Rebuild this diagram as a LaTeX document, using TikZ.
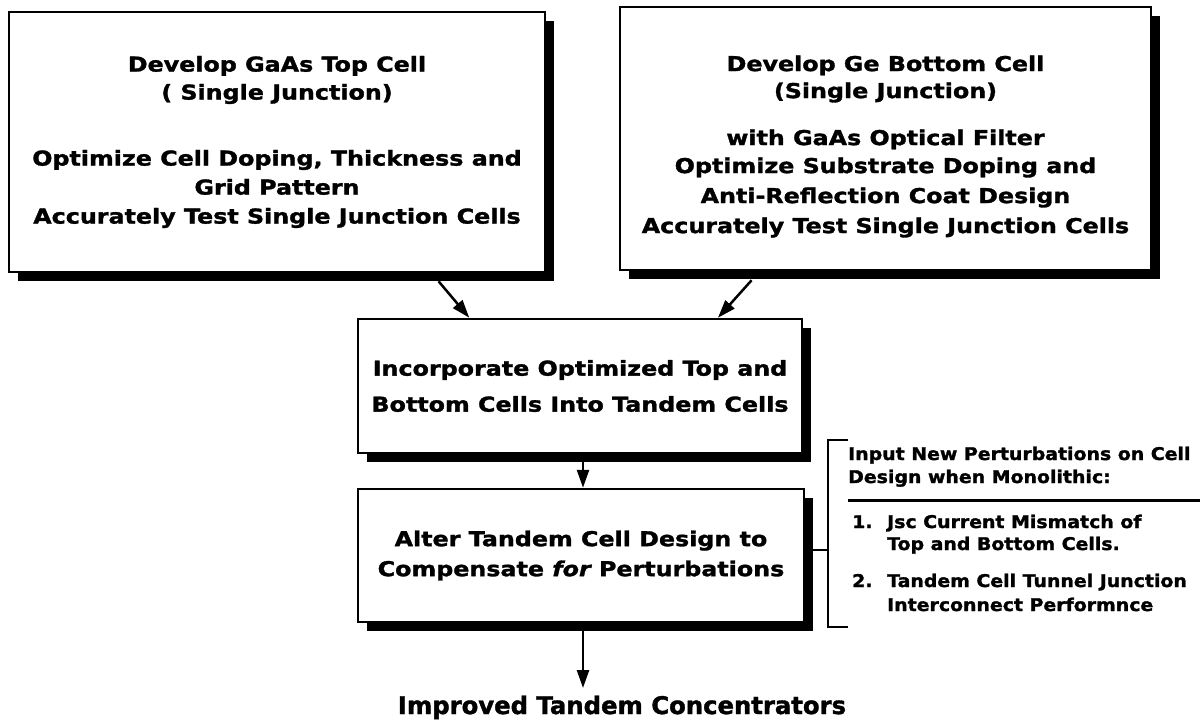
\documentclass[tikz,border=0pt]{standalone}
\usepackage{fontspec}
\setmainfont{DejaVu Sans}
\newfontfamily\boxfont{DejaVu Sans}[FakeStretch=1.16,FakeBold=1.5]
\newfontfamily\sidefont{DejaVu Sans}[FakeStretch=1.08,FakeBold=1.5]
\newfontfamily\titlefont{DejaVu Sans}[FakeBold=1.5]
\usetikzlibrary{arrows.meta,calc,shadows}
\begin{document}
\begin{tikzpicture}[x=1pt,y=-1pt,
  box/.style={draw,line width=2.5pt,fill=white,inner sep=0pt,
    drop shadow={shadow xshift=9pt,shadow yshift=-9pt,fill=black,opacity=1}},
  boxtext/.style={inner sep=0pt,align=center,
    font=\boxfont\bfseries\fontsize{20.5}{29}\selectfont},
  conn/.style={line width=2.5pt,-{Triangle[length=18pt,width=12pt]}},
  side/.style={anchor=base west,inner sep=0pt,font=\sidefont\bfseries\fontsize{17.5}{23}\selectfont},
  brk/.style={line width=2.5pt},
]
\useasboundingbox (0,0) rectangle (1200,721);
\fill[white] (0,0) rectangle (1200,721);

\node[box,minimum width=536pt,minimum height=260pt] (b1) at (277,142) {};
\node[boxtext] (b1t) at (b1.center)
  {Develop GaAs Top Cell\\[-1pt]( Single Junction)\\[37pt]Optimize Cell Doping, Thickness and\\Grid Pattern\\Accurately Test Single Junction Cells};
\node[box,minimum width=531pt,minimum height=263pt] (b2) at (885.5,138.5) {};
\node[boxtext] (b2t) at ([yshift=-8pt]b2.center)
  {Develop Ge Bottom Cell\\[-2pt](Single Junction)\\[18pt]with GaAs Optical Filter\\[-1pt]Optimize Substrate Doping and\\[1pt]Anti-Reflection Coat Design\\[1pt]Accurately Test Single Junction Cells};
\node[box,minimum width=444pt,minimum height=134pt] (b3) at (580,386) {};
\node[boxtext] (b3t) at (b3.center)
  {Incorporate Optimized Top and\\[7pt]Bottom Cells Into Tandem Cells};
\node[box,minimum width=446pt,minimum height=133pt] (b4) at (581,555.5) {};
\node[boxtext] (b4t) at (b4.center)
  {Alter Tandem Cell Design to\\[1pt]Compensate {\itshape for} Perturbations};

\node[font=\titlefont\bfseries\fontsize{24.3}{29}\selectfont,anchor=base,inner sep=0pt] (t) at (622,714) {Improved Tandem Concentrators};

\draw[conn] ([yshift=-8pt]$(b1.south west)!0.8!(b1.south east)$) -- ($(b3.north west)!0.252!(b3.north east)$);
\draw[conn] ([yshift=-9pt]$(b2.south west)!0.249!(b2.south east)$) -- ($(b3.north west)!0.809!(b3.north east)$);
\draw[conn] ([shift={(3,7)}]b3.south) -- ([xshift=2pt]b4.north);
\coordinate (tt) at (583,688);
\draw[conn] ([shift={(2,8)}]b4.south) -- (tt);

\coordinate (br) at (828,550);
\draw[brk] (848,440) -- (828,440) -- (828,627) -- (848,627);
\draw[brk] (b4.east |- br) -- (br);

\node[side] (s1) at (848,460) {Input New Perturbations on Cell};
\node[side] (s2) at (848,483) {Design when Monolithic:};
\draw[line width=3pt] (848,500) -- (1200,500);
\node[side] (n1) at (852,528) {1.};
\node[side] (i1a) at (887,528) {Jsc Current Mismatch of};
\node[side] (i1b) at (887,550) {Top and Bottom Cells.};
\node[side] (n2) at (852,587) {2.};
\node[side] (i2a) at (887,587) {Tandem Cell Tunnel Junction};
\node[side] (i2b) at (887,611) {Interconnect Performnce};
\end{tikzpicture}
\end{document}
